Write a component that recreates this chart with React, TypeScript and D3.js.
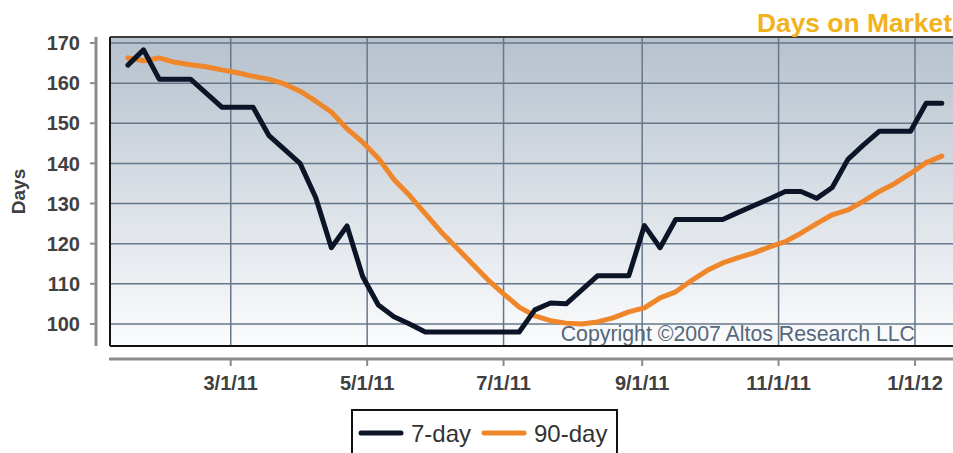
import React, { useEffect, useRef } from 'react';
import * as d3 from 'd3';

// weekly readings, first week ending 1/14/11
const startDate = new Date(2011, 0, 14);
const sevenDay = [
  164.5, 168.3, 161, 161, 161, 157.5, 154, 154, 154, 147, 143.5, 140, 131.5, 119, 124.4,
  111.8, 104.7, 101.8, 100, 98, 98, 98, 98, 98, 98, 98, 103.5, 105.2, 105, 108.5,
  112, 112, 112, 124.5, 119, 126, 126, 126, 126, 127.8, 129.5, 131.2, 133, 133, 131.3,
  134, 141, 144.6, 148, 148, 148, 155, 155,
];
const ninetyDay = [
  166.3, 165.6, 166.3, 165.2, 164.6, 164.1, 163.3, 162.6, 161.7, 161, 159.8, 158, 155.5, 152.8, 148.6,
  145.3, 141.3, 136, 132, 127.5, 123, 119, 115, 111, 107.5, 104.2, 102, 100.8, 100.2, 100,
  100.5, 101.5, 103, 104, 106.5, 108, 110.8, 113.3, 115.2, 116.5, 117.7, 119.2, 120.5, 122.6, 125,
  127.2, 128.4, 130.6, 133, 135, 137.5, 140.2, 141.8,
];
const yTicks = [100, 110, 120, 130, 140, 150, 160, 170];
const xTicks = ['3/1/11', '5/1/11', '7/1/11', '9/1/11', '11/1/11', '1/1/12'];
const seriesNames = ['7-day', '90-day'];

const W = 953;
const H = 453;
const FONT = 'Liberation Sans, Arial, Helvetica, sans-serif';

const App = () => {
  const ref = useRef<SVGSVGElement>(null);

  useEffect(() => {
    const svg = d3.select(ref.current);
    svg.selectAll('*').remove();

    const left = 110, right = W, top = 37, bottom = 346;
    const parse = d3.timeParse('%m/%d/%y');

    const x = d3.scaleTime()
      .domain([new Date(2011, 0, 6), new Date(2012, 0, 18)])
      .range([left, right]);
    const y = d3.scaleLinear().domain([94.5, 171.5]).range([bottom, top]);

    const dates = sevenDay.map((_, i) => d3.timeDay.offset(startDate, 7 * i));

    // background gradient
    const defs = svg.append('defs');
    const grad = defs.append('linearGradient')
      .attr('id', 'bg').attr('x1', 0).attr('x2', 0).attr('y1', 0).attr('y2', 1);
    grad.append('stop').attr('offset', '0%').attr('stop-color', '#b6c1cd');
    grad.append('stop').attr('offset', '100%').attr('stop-color', '#fbfcfd');

    svg.append('rect')
      .attr('x', left).attr('y', top)
      .attr('width', right - left).attr('height', bottom - top)
      .attr('fill', 'url(#bg)');

    // grid
    const grid = svg.append('g').attr('stroke', '#66778a').attr('stroke-width', 1.5);
    grid.selectAll('.hy').data(yTicks).join('line')
      .attr('x1', left).attr('x2', right)
      .attr('y1', d => y(d)).attr('y2', d => y(d));
    grid.selectAll('.vx').data(xTicks).join('line')
      .attr('x1', d => x(parse(d)!)).attr('x2', d => x(parse(d)!))
      .attr('y1', top).attr('y2', bottom);

    // copyright
    svg.append('text')
      .attr('x', 915).attr('y', 341)
      .attr('text-anchor', 'end')
      .attr('font-family', FONT).attr('font-size', 21.3)
      .attr('fill', '#56677a')
      .text('Copyright \u00a92007 Altos Research LLC');

    // frame
    svg.append('line').attr('x1', left).attr('x2', right).attr('y1', top).attr('y2', top)
      .attr('stroke', '#3c3c3c').attr('stroke-width', 2);
    svg.append('line').attr('x1', left).attr('x2', left).attr('y1', top).attr('y2', bottom)
      .attr('stroke', '#111').attr('stroke-width', 2);
    svg.append('line').attr('x1', left).attr('x2', right).attr('y1', bottom).attr('y2', bottom)
      .attr('stroke', '#111').attr('stroke-width', 2);

    // lines
    const line = d3.line<number>()
      .x((_, i) => x(dates[i]))
      .y(d => y(d));

    svg.append('path')
      .datum(ninetyDay)
      .attr('fill', 'none')
      .attr('stroke', '#f0862a')
      .attr('stroke-width', 5)
      .attr('stroke-linejoin', 'round')
      .attr('stroke-linecap', 'round')
      .attr('d', line);

    svg.append('path')
      .datum(sevenDay)
      .attr('fill', 'none')
      .attr('stroke', '#0c1527')
      .attr('stroke-width', 5)
      .attr('stroke-linejoin', 'round')
      .attr('stroke-linecap', 'round')
      .attr('d', line);

    // y axis
    const yAxis = svg.append('g');
    yAxis.append('line').attr('x1', 96).attr('x2', 96).attr('y1', top).attr('y2', bottom)
      .attr('stroke', '#8c8c8c').attr('stroke-width', 3);
    yAxis.selectAll('.tick').data(yTicks).join('line')
      .attr('x1', 90).attr('x2', 97)
      .attr('y1', d => y(d)).attr('y2', d => y(d))
      .attr('stroke', '#8c8c8c').attr('stroke-width', 2);
    yAxis.selectAll('text').data(yTicks).join('text')
      .attr('x', 80).attr('y', d => y(d)).attr('dy', '0.36em')
      .attr('text-anchor', 'end')
      .attr('font-family', FONT).attr('font-size', 20).attr('font-weight', 'bold')
      .attr('fill', '#404040')
      .text(d => d);
    svg.append('text')
      .attr('transform', `translate(25,${(top + bottom) / 2}) rotate(-90)`)
      .attr('text-anchor', 'middle')
      .attr('font-family', FONT).attr('font-size', 19).attr('font-weight', 'bold')
      .attr('fill', '#404040')
      .text('Days');

    // x axis
    const xAxis = svg.append('g');
    xAxis.append('line').attr('x1', left - 1).attr('x2', right).attr('y1', 359).attr('y2', 359)
      .attr('stroke', '#8c8c8c').attr('stroke-width', 3);
    xAxis.selectAll('.tick').data(xTicks).join('line')
      .attr('x1', d => x(parse(d)!)).attr('x2', d => x(parse(d)!))
      .attr('y1', 358).attr('y2', 366)
      .attr('stroke', '#8c8c8c').attr('stroke-width', 2);
    xAxis.selectAll('text').data(xTicks).join('text')
      .attr('x', d => x(parse(d)!)).attr('y', 390)
      .attr('text-anchor', 'middle')
      .attr('font-family', FONT).attr('font-size', 20).attr('font-weight', 'bold')
      .attr('fill', '#404040')
      .text(d => d);

    // title
    svg.append('text')
      .attr('x', 952).attr('y', 32)
      .attr('text-anchor', 'end')
      .attr('font-family', FONT).attr('font-size', 26.4).attr('font-weight', 'bold')
      .attr('fill', '#f2b21c')
      .text('Days on Market');

    // legend
    const legend = svg.append('g');
    legend.append('rect')
      .attr('x', 352).attr('y', 410).attr('width', 265).attr('height', 60)
      .attr('fill', '#fff').attr('stroke', '#111').attr('stroke-width', 2);
    const items = [
      { name: seriesNames[0], color: '#0c1527', x0: 361 },
      { name: seriesNames[1], color: '#f0862a', x0: 484 },
    ];
    const li = legend.selectAll('.item').data(items).join('g');
    li.append('line')
      .attr('x1', d => d.x0).attr('x2', d => d.x0 + 40)
      .attr('y1', 433).attr('y2', 433)
      .attr('stroke', d => d.color).attr('stroke-width', 5).attr('stroke-linecap', 'round');
    li.append('text')
      .attr('x', d => d.x0 + 50).attr('y', 442)
      .attr('font-family', FONT).attr('font-size', 24)
      .attr('fill', '#333')
      .text(d => d.name);
  }, []);

  return (
    <svg
      ref={ref}
      width={W}
      height={H}
      style={{ position: 'absolute', left: 0, top: 0, background: '#fff' }}
    />
  );
};

export default App;
